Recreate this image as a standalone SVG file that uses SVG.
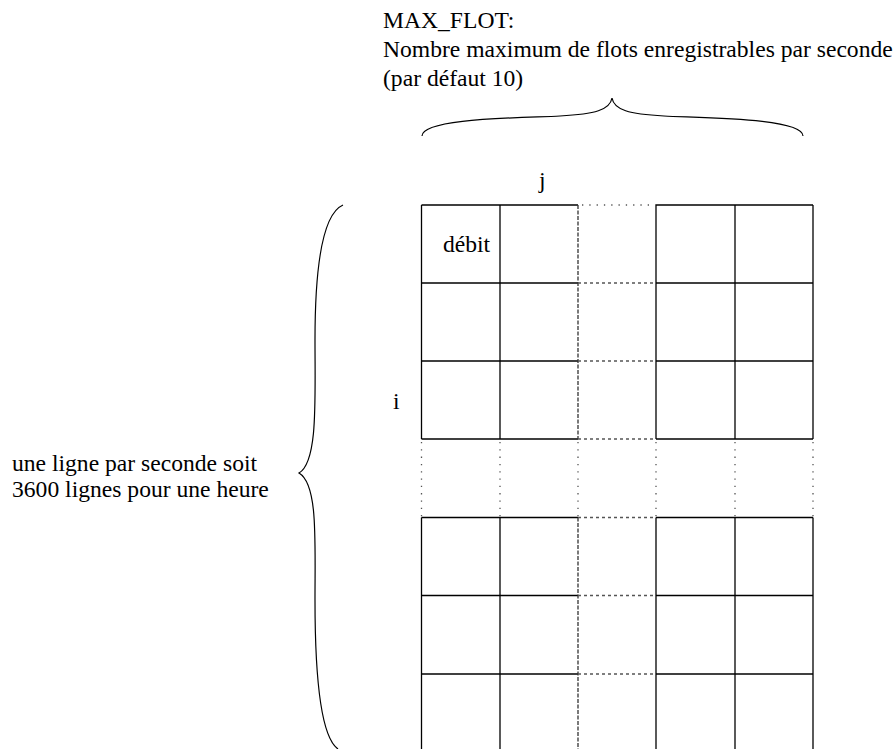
<svg xmlns="http://www.w3.org/2000/svg" width="895" height="749" viewBox="0 0 895 749">
<style>
.s{stroke:#000;stroke-width:1.3;fill:none}
.dash{stroke:#555;stroke-width:1.3;stroke-dasharray:3 3;fill:none}
.dot{stroke:#555;stroke-width:1.3;stroke-dasharray:1.3 6;fill:none}
.vd{stroke:#333;stroke-width:1.3;stroke-dasharray:4 1.5;fill:none}
.br{stroke:#000;stroke-width:1.2;fill:none}
</style>
<rect width="895" height="749" fill="#fff"/>
<g id="labels" font-size="23.6" font-family="Liberation Serif, serif" fill="#000">
<text x="383" y="28">MAX_FLOT:</text>
<text x="383" y="57">Nombre maximum de flots enregistrables par seconde</text>
<text x="383" y="86">(par défaut 10)</text>
<text x="539" y="188">j</text>
<text x="393" y="409">i</text>
<text x="12" y="471">une ligne par seconde soit</text>
<text x="12" y="497">3600 lignes pour une heure</text>
</g>
<g id="grid">
<text x="443" y="252" font-family="Liberation Serif, serif" font-size="23.6">débit</text>
<g class="s">
<line x1="421.5" y1="205" x2="578" y2="205"/>
<line x1="656" y1="205" x2="813" y2="205"/>
<line x1="421.5" y1="283" x2="578" y2="283"/>
<line x1="656" y1="283" x2="813" y2="283"/>
<line x1="421.5" y1="361" x2="578" y2="361"/>
<line x1="656" y1="361" x2="813" y2="361"/>
<line x1="421.5" y1="439" x2="578" y2="439"/>
<line x1="656" y1="439" x2="813" y2="439"/>
<line x1="421.5" y1="517.5" x2="578" y2="517.5"/>
<line x1="656" y1="517.5" x2="813" y2="517.5"/>
<line x1="421.5" y1="595.5" x2="578" y2="595.5"/>
<line x1="656" y1="595.5" x2="813" y2="595.5"/>
<line x1="421.5" y1="674" x2="578" y2="674"/>
<line x1="656" y1="674" x2="813" y2="674"/>
<line x1="421.5" y1="205" x2="421.5" y2="439"/>
<line x1="500" y1="205" x2="500" y2="439"/>
<line x1="656" y1="205" x2="656" y2="439"/>
<line x1="735" y1="205" x2="735" y2="439"/>
<line x1="813" y1="205" x2="813" y2="439"/>
<line x1="421.5" y1="517.5" x2="421.5" y2="749"/>
<line x1="500" y1="517.5" x2="500" y2="749"/>
<line x1="656" y1="517.5" x2="656" y2="749"/>
<line x1="735" y1="517.5" x2="735" y2="749"/>
<line x1="813" y1="517.5" x2="813" y2="749"/>
</g>
<g class="vd">
<line x1="578" y1="205" x2="578" y2="439"/>
<line x1="578" y1="517.5" x2="578" y2="749"/>
</g>
<g class="dash">
<line x1="578" y1="283" x2="656" y2="283"/>
<line x1="578" y1="361" x2="656" y2="361"/>
<line x1="578" y1="439" x2="656" y2="439"/>
<line x1="578" y1="517.5" x2="656" y2="517.5"/>
<line x1="578" y1="595.5" x2="656" y2="595.5"/>
<line x1="578" y1="674" x2="656" y2="674"/>
</g>
<g class="dot">
<line x1="582" y1="205" x2="656" y2="205"/>
<line x1="421.5" y1="442" x2="421.5" y2="517"/>
<line x1="500" y1="442" x2="500" y2="517"/>
<line x1="578" y1="442" x2="578" y2="517"/>
<line x1="656" y1="442" x2="656" y2="517"/>
<line x1="735" y1="442" x2="735" y2="517"/>
<line x1="813" y1="442" x2="813" y2="517"/>
</g>
</g>
<g id="connectors">
<path class="br" d="M422,136 C422,118 520,118 560,116 C595,114 610,110 612,98 C614,110 629,114 664,116 C704,118 803,118 803,136"/>
<path class="br" d="M343,205 C320,215 315,280 315,340 C315,400 318,462 299,473 C318,484 315,540 315,600 C315,660 318,735 338,749"/>
</g>
</svg>
